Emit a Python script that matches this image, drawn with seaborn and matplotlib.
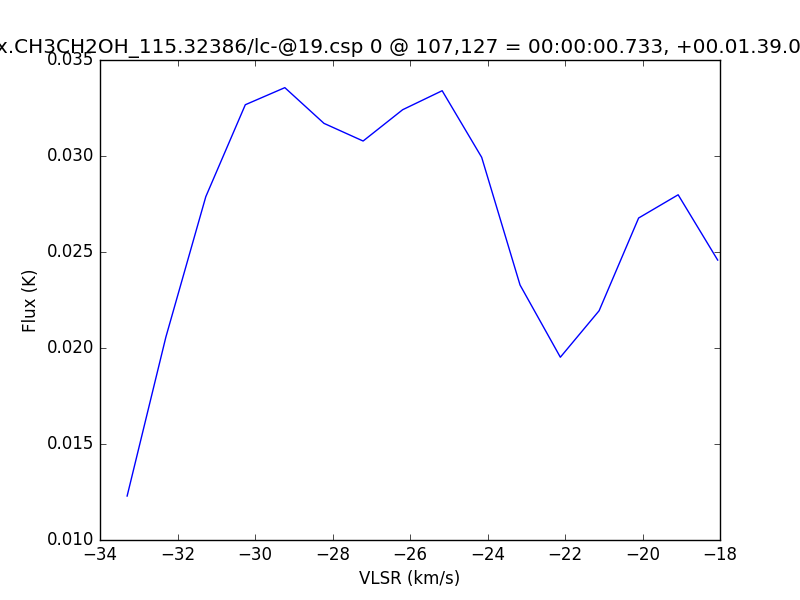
import numpy as np
import pandas as pd
import seaborn as sns
import matplotlib
matplotlib.use("Agg")
import matplotlib.pyplot as plt

# Spectrum values
vlsr = [-33.30, -32.30, -31.27, -30.25, -29.23, -28.22, -27.21, -26.19,
        -25.17, -24.15, -23.16, -22.12, -21.12, -20.10, -19.08, -18.06]
flux = [0.01229, 0.02057, 0.02788, 0.03267, 0.03356, 0.03170, 0.03078, 0.03241,
        0.03340, 0.02993, 0.02328, 0.01952, 0.02194, 0.02677, 0.02798, 0.02458]

title = "x.CH3CH2OH_115.32386/lc-@19.csp 0 @ 107,127 = 00:00:00.733, +00.01.39.0"

df = pd.DataFrame({"VLSR": vlsr, "Flux": flux})

# old matplotlib look
plt.style.use("classic")

fig, ax = plt.subplots(figsize=(8, 6), dpi=100)
fig.patch.set_facecolor("white")
sns.lineplot(data=df, x="VLSR", y="Flux", color="b", linewidth=1.0, ax=ax, sort=False)

ax.set_xlim(-34, -18)
ax.set_ylim(0.010, 0.035)
ax.set_xticks(np.arange(-34, -17, 2))
ax.set_yticks(np.arange(0.010, 0.0351, 0.005))
ax.set_yticklabels([f"{v:.3f}" for v in np.arange(0.010, 0.0351, 0.005)])
ax.set_xlabel("VLSR (km/s)")
ax.set_ylabel("Flux (K)")
# the original title runs past both figure edges; shift so the same part shows
ax.set_title(title, x=0.481)

plt.savefig("out.png", dpi=100, facecolor="white")
